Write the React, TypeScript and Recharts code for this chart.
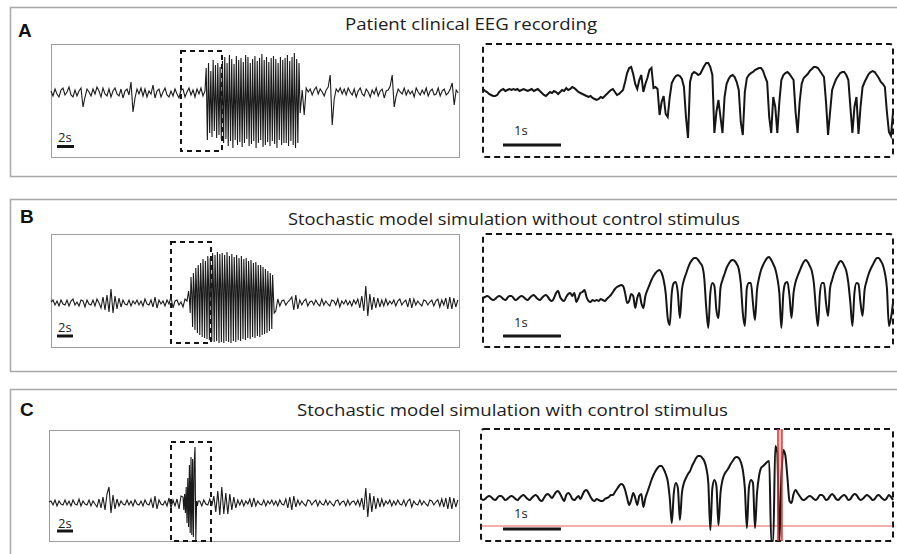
import React from "react";
import { LineChart, Line, XAxis, YAxis, ReferenceArea, ReferenceLine } from "recharts";

// amplitudes are in arbitrary units around a baseline of 0
// long traces: time in s, zoomed traces: time in ms

// --- A: patient clinical EEG ---
const eegPre = [
  2, -3, 4, -1, -4, 3, 5, -2, 1, 6,
  -2, -4, 3, -3, 2, 5, -14, -4, 4, 1,
  -3, 4, -1, 6, 2, -4, 5, -1, -3, 4,
  -4, 2, 5, -1, -3, 4, -5, 2, 4, -2,
  11, -19, -5, 4, -1, 5, -3, 4, -4, 2,
  -1, 8, -5, 2, 4, -4, 1, 5, -2, -4,
  2, -3, 4, -1, -5, 3, 4, -4, 1, 5,
  -2, 3, -4, 4, -1, 5, -3, 2,
];
const eegIctal = [
  25, -47, 30, -40, 22, -44, 33, -38, 28, -45, 30, -42, 26, -46,
  32, -50, 36, -46, 30, -53, 38, -48, 34, -55, 29, -47, 37, -52, 33, -49, 35, -54, 31, -50,
  38, -46, 36, -53, 30, -51, 34, -48, 37, -55, 32, -50, 35, -47, 39, -54, 33, -52, 36, -49,
  31, -53, 35, -48, 37, -51, 34, -55, 30, -47, 36, -52, 33, -50,
  35, -50, 38, -53, 32, -48, 36, -52, 40, -55, 34, -50, 30, -20,
];
const eegPost = [
  3, -22, 5, 1, 4, -2, 3, 6, -1, 4,
  1, -3, 3, 6, 18, -32, -6, 4, 1, 5,
  -1, 4, -2, 5, 1, -2, 4, -4, 2, 5,
  -1, -3, 4, 1, -4, 3, -1, 5, -3, 2,
  4, -5, 2, 3, 7, 18, -14, -3, 4, 1,
  -1, 5, -2, 3, -1, 2, -4, 5, 1, -2,
  3, -1, 5, -3, 2, 4, -2, -1, 5, -3,
  2, 4, -2, 0, 4, 10, -12, 3, 0,
];
const eegZoom = [
  3, 1, 0, -2, -3, -4, -4, -3, 0, 2,
  3, 1, 2, 3, 2, 3, 2, 3, 1, 2,
  3, 2, 1, 2, 3, 1, 2, 3, 1, -1,
  -3, -4, -2, 0, -1, 1, 0, -2, 0, 2,
  1, 4, 2, 3, 5, 4, 2, 0, -1, -2,
  -3, -4, -5, -4, -6, -7, -8, -7, -5, -6,
  -4, -2, 0, 2, 3, 0, -3, -2, 0, 2,
  10, 19, 24, 25, 18, 8, 3, 12, 17, 0,
  8, 14, 22, 24, 4, 5, 3, -23, -10, -4,
  -22, -25, -5, 9, 13, 16, 17, 16, 13, 5,
  -25, -46, 10, 18, 20, 19, 17, 18, 22, 26,
  29, 29, 25, 17, -41, -20, -8, -25, -41, -5,
  8, 13, 16, 17, 15, 10, 2, -30, -43, 0,
  14, 17, 19, 20, 22, 23, 24, 24, 21, 15,
  10, -25, -41, -5, -15, -41, -10, 12, 17, 19,
  20, 18, 15, 12, -20, -41, -10, 8, 14, 16,
  18, 21, 23, 25, 25, 24, 21, 18, 15, -10,
  -43, -20, 2, 8, 13, 16, 19, 20, 20, 17,
  12, -15, -41, -15, -5, -42, -15, 5, 10, 14,
  18, 20, 21, 20, 17, 14, 10, 8, 5, -20,
  -40, -44, -20,
];

// --- B: model without control stimulus ---
const simPre = [
  1, 3, -2, 2, -3, 3, -1, -2, 3, -3,
  2, 4, -2, 1, -3, 3, 2, -4, 3, -1,
  -2, 3, -3, 4, 0, -5, 6, -7, 8, -9,
  14, -10, 7, -6, 5, -4, 3, -1, -2, 3,
  -3, 2, -1, 3, -2, 2, -3, 4, -1, -2,
  3, -4, 6, -5, 3, -1, 2, -3, 3, -1,
  6, -5, 2, 3, -2, 1, -4, 4, 2,
];
const simIctal = [
  12, 4, -10, 26, 10, -24, 30, 12, -27, 35, 14, -30, 38, 15, -32, 40, 16, -34,
  44, 17, -35, 42, 16, -36, 47, 18, -37, 45, 17, -38, 50, 19, -39, 48, 18, -38,
  51, 19, -40, 49, 18, -39, 50, 19, -40, 48, 18, -38, 51, 19, -39, 47, 17, -40,
  49, 18, -38, 46, 17, -39, 48, 18, -37, 45, 17, -38, 47, 17, -36, 44, 16, -37,
  45, 17, -35, 42, 16, -36, 43, 16, -34, 40, 15, -35, 41, 15, -33, 38, 14, -34,
  38, 14, -32, 36, 13, -31, 34, 13, -30, 32, 12, -28, 30, 11, -26, 28, 8, -10,
];
const simPost = [
  -8, 4, -3, 2, 3, -2, 1, 3, 6, -7,
  8, -6, 3, -2, 2, 4, -3, 1, 2, -2,
  3, -1, -3, 4, -2, 2, -1, -3, 3, 2,
  -2, 4, -4, 2, -1, 3, -2, 2, -3, 3,
  -1, 4, -5, 7, -8, 17, -13, 9, -7, 6,
  -5, 5, -4, 3, -3, 4, -2, 2, -1, 3,
  -3, 2, 4, -2, 1, 3, -4, 5, -5, 4,
  -2, 2, -1, -3, 3, 2, -2, 1, 3, -3,
  2, 4, -4, 3, -2, 5, -6, 6, -6, 5,
  -4, 3,
];
const simZoom = [
  0, 1, 2, 1, -1, -2, -1, 1, 2, 1,
  -1, -2, 0, 2, 2, 0, -2, -1, 1, 2,
  1, -1, -2, 0, 2, 3, 1, -1, -2, 0,
  2, 3, 1, -2, -3, 0, 5, 7, 1, -2,
  -3, 1, 4, 5, 2, 5, -4, 0, 5, 6,
  8, 1, -3, -4, -2, -3, -2, -3, -1, -2,
  -3, -1, 1, 3, 6, 9, 11, 12, 13, 12,
  5, -5, -3, 4, 2, -10, 0, 5, -5, -10,
  2, 8, 13, 18, 22, 25, 27, 28, 25, 18,
  5, -20, -27, 5, 15, 16, 5, -20, 8, 18,
  24, 30, 35, 38, 40, 40, 38, 35, 32, 20,
  -10, -30, 5, 15, 12, -12, -20, 10, 18, 24,
  30, 34, 37, 38, 37, 34, 29, 15, -15, -28,
  10, 15, 15, -5, -22, 8, 20, 28, 33, 37,
  40, 41, 38, 34, 29, 20, 5, -30, 5, 15,
  16, 2, -20, 5, 16, 22, 27, 32, 36, 38,
  36, 32, 27, 15, -10, -28, 5, 15, 15, -5,
  -18, 10, 18, 25, 30, 34, 37, 36, 32, 27,
  15, -5, -28, 5, 15, 14, -5, -18, 8, 17,
  24, 29, 33, 37, 40, 40, 37, 33, 25, 10,
  -28, -20, -5,
];

// --- C: model with control stimulus ---
const ctrlPre = [
  1, 2, -2, 3, -3, 2, -1, -2, 3, -2,
  2, -3, 3, -1, -2, 4, -3, 2, -1, -2,
  3, -3, 2, -1, -4, 4, -5, 6, -7, 9,
  16, -10, 8, -6, 4, -3, 2, -1, -2, 3,
  -2, 2, -3, 3, -1, -2, 2, -3, 3, -1,
  -2, 4, -5, 7, -6, 3, -1, -2, 2, -3,
  5, -5, 3, -3, 4, -6, 7,
];
const ctrlBurst = [6, -7, 9, -10, 16, -20, 25, -24, 38, -30, 46, -32, 44, -34, 40, 56, -38, 2, -3, 2];
const ctrlPost = [
  2, -3, 3, -1, -2, 4, -3, 7, -9, 12,
  -12, 16, -11, 10, -11, 9, -7, 6, -5, 3,
  -2, 3, -3, 2, -1, 4, -4, 5, -3, 2,
  -1, -2, 3, -3, 2, -1, 3, -2, 2, -3,
  3, -1, -2, 4, -5, 6, -7, 7, -4, 3,
  -2, 2, -1, -3, 3, 2, -2, 1, 3, -3,
  2, -1, -2, 3, -2, 2, -1, -3, 2, 3,
  -2, 1, 2, -3, 3, -2, 1, 2, -2, 3,
  -3, 5, -7, 15, -14, 10, -9, 7, -6, 5,
  -4, 4, -3, 2, -1, 3, -3, 2, -2, 3,
  -1, -2, 3, -3, 2, 4, -4, 2, -1, -2,
  3, -2, 2, -1, -3, 3, 2, -2, 1, 3,
  -3, 4, -4, 5, -6, 6, -6, 5, -4, 3,
];
const ctrlZoom = [
  0, -2, -1, 1, 2, 1, -1, -2, 0, 2,
  2, 0, -2, -1, 1, 2, 1, -1, -2, 0,
  2, 3, 1, -1, -2, 0, 2, 3, 1, -2,
  -3, 0, 3, 4, 2, 0, 3, 6, 7, 4,
  0, -3, 3, 5, 3, -1, -2, 0, 2, -1,
  3, 7, 8, 5, 1, -2, -3, -1, -2, -3,
  -3, -1, 0, 1, 3, 3, 6, 9, 12, 14,
  13, 8, 0, -7, -2, 5, 0, -7, 2, 4,
  -9, 0, 6, 12, 18, 23, 27, 30, 32, 32,
  29, 24, 17, 0, -25, 5, 15, 10, -22, 5,
  15, 20, 24, 27, 32, 36, 40, 42, 42, 40,
  37, 30, 15, -32, 10, 18, 12, -27, 5, 18,
  24, 27, 30, 34, 37, 40, 41, 40, 36, 28,
  10, -30, 10, 18, 15, -30, 5, 22, 30, 32,
  34, 36, 37, -43, -43, 52, 45, -43, 20, 48,
  42, 20, -3, -5, 4, 8, 5, 2, -1, -2,
  -1, 1, 2, 1, -1, -2, 0, 3, 3, 1,
  -2, -1, 2, 4, 2, -1, -2, 0, 2, 3,
  1, -2, -1, 2, 4, 3, 0, -2, -1, 1,
  3, 2, 0, -2, -1, 2, 3, 1, -1, -2,
  0, 3, 1, -2,
];

const titles = [
  "Patient clinical EEG recording",
  "Stochastic model simulation without control stimulus",
  "Stochastic model simulation with control stimulus",
];
const panelLetters = ["A", "B", "C"];

type Seg = { start: number; step: number; values: number[] };

function buildTrace(segs: Seg[]) {
  const rows: { t: number; v: number }[] = [];
  segs.forEach((s) => s.values.forEach((v, i) => rows.push({ t: s.start + i * s.step, v })));
  return rows;
}

const ZOOM_STEP = 35; // ms per sample

const longA = buildTrace([
  { start: 0, step: 0.25, values: eegPre },
  { start: 19.4, step: 0.145, values: eegIctal },
  { start: 31.4, step: 0.25, values: eegPost },
]);
const longB = buildTrace([
  { start: 0, step: 0.25, values: simPre },
  { start: 17.2, step: 0.1, values: simIctal },
  { start: 28.1, step: 0.25, values: simPost },
]);
const longC = buildTrace([
  { start: 0, step: 0.25, values: ctrlPre },
  { start: 16.75, step: 0.1, values: ctrlBurst },
  { start: 18.85, step: 0.25, values: ctrlPost },
]);
const zoomA = buildTrace([{ start: 0, step: ZOOM_STEP, values: eegZoom }]);
const zoomB = buildTrace([{ start: 0, step: ZOOM_STEP, values: simZoom }]);
const zoomC = buildTrace([{ start: 0, step: ZOOM_STEP, values: ctrlZoom }]);

const PAD = 3;
const INK = "#151515";
const RED = "#e2332b";

function Trace({ box, data, xMax, yDomain, thin, curve, under, over }: any) {
  return (
    <div style={{ position: "absolute", left: box[0] - PAD, top: box[1] - PAD }}>
      <LineChart
        width={box[2] + 2 * PAD}
        height={box[3] + 2 * PAD}
        data={data}
        margin={{ top: PAD, right: PAD, bottom: PAD, left: PAD }}
      >
        <XAxis type="number" dataKey="t" domain={[0, xMax]} hide />
        <YAxis type="number" domain={yDomain} hide />
        {under}
        <Line
          type={curve || (thin ? "linear" : "monotone")}
          dataKey="v"
          stroke={thin ? "#1a1a1a" : INK}
          strokeWidth={thin ? 1.1 : 2}
          dot={false}
          isAnimationActive={false}
        />
        {over}
      </LineChart>
    </div>
  );
}

const zoomBox = (x1: number, x2: number, y1: number, y2: number) => (
  <ReferenceArea x1={x1} x2={x2} y1={y1} y2={y2} fill="none" stroke={INK} strokeWidth={2} strokeDasharray="5 4" />
);
const scaleBar = (x1: number, x2: number, y: number) => (
  <ReferenceLine segment={[{ x: x1, y }, { x: x2, y }]} stroke={INK} strokeWidth={3} />
);

export default function App() {
  const titleFont = "'Open Sans', 'Noto Sans', sans-serif";
  return (
    <div style={{ position: "absolute", left: 0, top: 0, width: 897, height: 554, background: "#fff", overflow: "hidden" }}>
      <svg width={897} height={554} style={{ position: "absolute", left: 0, top: 0 }}>
        {/* panel frames */}
        <rect x={10.5} y={7.5} width={895} height={169} fill="none" stroke="#a8a8a8" strokeWidth={1.5} />
        <rect x={10.5} y={199.5} width={895} height={172} fill="none" stroke="#a8a8a8" strokeWidth={1.5} />
        <rect x={10.5} y={389.5} width={895} height={180} fill="none" stroke="#a8a8a8" strokeWidth={1.5} />

        {/* long-trace frames */}
        <rect x={51.5} y={44.5} width={408} height={113} fill="none" stroke="#9c9c9c" strokeWidth={1} />
        <rect x={51.5} y={234.5} width={408} height={113} fill="none" stroke="#9c9c9c" strokeWidth={1} />
        <rect x={49.5} y={430.5} width={410} height={111} fill="none" stroke="#9c9c9c" strokeWidth={1} />

        {/* zoom frames */}
        <rect x={483} y={44} width={410} height={113} rx={3} fill="none" stroke={INK} strokeWidth={2} strokeDasharray="6 4" />
        <rect x={483} y={234} width={410} height={113} rx={3} fill="none" stroke={INK} strokeWidth={2} strokeDasharray="6 4" />
        <rect x={481} y={429} width={412} height={112} rx={3} fill="none" stroke={INK} strokeWidth={2} strokeDasharray="6 4" />

        {/* letters */}
        <g fontFamily="'Liberation Sans', Arial, sans-serif" fontWeight="bold" fontSize={19} fill="#111">
          <text x={18} y={37}>{panelLetters[0]}</text>
          <text x={20} y={223}>{panelLetters[1]}</text>
          <text x={20} y={416}>{panelLetters[2]}</text>
        </g>

        {/* titles */}
        <g fontFamily={titleFont} fontSize={17} fill="#1c1c1c">
          <text x={345} y={30} textLength={252} lengthAdjust="spacingAndGlyphs">{titles[0]}</text>
          <text x={288} y={225} textLength={452} lengthAdjust="spacingAndGlyphs">{titles[1]}</text>
          <text x={297} y={416} textLength={431} lengthAdjust="spacingAndGlyphs">{titles[2]}</text>
        </g>

        {/* scale-bar labels */}
        <g fontFamily={titleFont} fontSize={13} fill="#1c1c1c">
          <text x={58} y={142}>2s</text>
          <text x={514} y={135}>1s</text>
          <text x={58} y={332}>2s</text>
          <text x={514} y={327}>1s</text>
          <text x={58} y={528}>2s</text>
          <text x={514} y={518}>1s</text>
        </g>
      </svg>

      {/* A */}
      <Trace
        box={[51, 44, 408, 113]}
        data={longA}
        xMax={51}
        yDomain={[-64, 49]}
        thin
        over={[<React.Fragment key="a">{zoomBox(16.25, 21.375, 42, -58)}{scaleBar(0.75, 2.875, -53.5)}</React.Fragment>]}
      />
      <Trace
        box={[483, 44, 410, 113]}
        data={zoomA}
        xMax={7070}
        yDomain={[-65, 48]}
        curve="linear"
        over={[<React.Fragment key="a2">{scaleBar(345, 1345, -53)}</React.Fragment>]}
      />

      {/* B */}
      <Trace
        box={[51, 234, 408, 113]}
        data={longB}
        xMax={51}
        yDomain={[-44, 69]}
        thin
        over={[<React.Fragment key="b">{zoomBox(15, 20, 61, -40)}{scaleBar(0.75, 2.75, -33)}</React.Fragment>]}
      />
      <Trace
        box={[483, 234, 410, 113]}
        data={zoomB}
        xMax={7070}
        yDomain={[-49, 64]}
        over={[<React.Fragment key="b2">{scaleBar(345, 1345, -38)}</React.Fragment>]}
      />

      {/* C */}
      <Trace
        box={[49, 430, 410, 111]}
        data={longC}
        xMax={51.25}
        yDomain={[-38, 73]}
        thin
        over={[<React.Fragment key="c">{zoomBox(15.25, 20.25, 61, -38)}{scaleBar(1, 3, -28)}</React.Fragment>]}
      />
      <Trace
        box={[481, 429, 412, 112]}
        data={zoomC}
        xMax={7105}
        yDomain={[-43, 69]}
        under={[<React.Fragment key="c2">
          <ReferenceLine y={-28} stroke={RED} strokeOpacity={0.8} strokeWidth={1} />
        </React.Fragment>]}
        over={[<React.Fragment key="c3">
          {scaleBar(379, 1379, -31)}
          <ReferenceArea x1={5121} x2={5190} fill={RED} fillOpacity={0.3} stroke="none" />
          <ReferenceLine x={5121} stroke={RED} strokeWidth={1.5} />
          <ReferenceLine x={5190} stroke={RED} strokeWidth={1.5} />
        </React.Fragment>]}
      />
    </div>
  );
}
